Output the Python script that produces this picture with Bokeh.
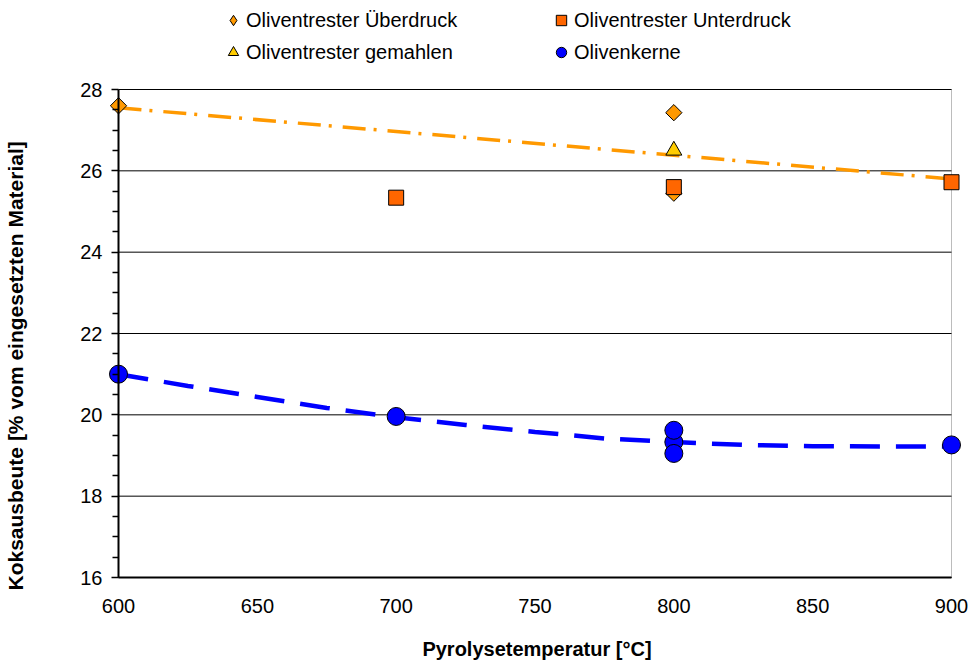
from bokeh.plotting import figure
from bokeh.models import (Range1d, FixedTicker, Legend, LegendItem, LinearAxis, BoxAnnotation,
                          Title)
from bokeh.embed import file_html
from bokeh.resources import INLINE

# ---- data ----
ueber_x = [600, 800, 800]
ueber_y = [27.6, 27.43, 25.45]
unter_x = [700, 800, 900]
unter_y = [25.34, 25.6, 25.72]
gem_x = [800]
gem_y = [26.5]
kerne_x = [600, 700, 800, 800, 800, 900]
kerne_y = [21.0, 19.96, 19.33, 19.62, 19.05, 19.26]

# trend lines
trend_o_x = [600, 900]
trend_o_y = [27.55, 25.8]
trend_b_x = [600, 625, 650, 675, 700, 725, 750, 775, 800, 825, 850, 875, 900]
trend_b_y = [21.0, 20.71, 20.44, 20.17, 19.94, 19.75, 19.58, 19.42, 19.33, 19.26, 19.23, 19.22, 19.22]

x_ticks = [600, 650, 700, 750, 800, 850, 900]
y_ticks = [16, 18, 20, 22, 24, 26, 28]
y_minor = [16.5, 17, 17.5, 18.5, 19, 19.5, 20.5, 21, 21.5, 22.5, 23, 23.5,
           24.5, 25, 25.5, 26.5, 27, 27.5]
X_MIN, X_MAX, Y_MIN, Y_MAX = 600, 900, 16, 28

FONT = "Liberation Sans"

# ---- layout (pixels) ----
W, H = 968, 666
AX_L, AX_R, AX_T, AX_B = 118, 951, 89, 577     # where the axis limits sit
FR_L, FR_R, FR_T, FR_B = 107, 966, 0, 579      # frame (larger: markers and legend fit inside)
xs = (X_MAX - X_MIN) / (AX_R - AX_L)
ys = (Y_MAX - Y_MIN) / (AX_B - AX_T)
x_range = Range1d(X_MIN - (AX_L - FR_L) * xs, X_MAX + (FR_R - AX_R) * xs)
y_range = Range1d(Y_MIN - (FR_B - AX_B) * ys, Y_MAX + (AX_T - FR_T) * ys)

p = figure(width=W, height=H, output_backend="svg", toolbar_location=None,
           x_range=x_range, y_range=y_range,
           min_border_left=FR_L, min_border_right=W - FR_R,
           min_border_top=FR_T, min_border_bottom=H - FR_B)
p.title.visible = False
p.background_fill_color = "white"
p.border_fill_color = "white"
p.outline_line_color = None
p.xgrid.visible = False
p.ygrid.visible = False


def labels_only(ax, ticks, text, standoff, label_standoff):
    ax.ticker = FixedTicker(ticks=ticks)
    ax.axis_line_color = None
    ax.major_tick_out = 0
    ax.major_tick_in = 0
    ax.minor_tick_out = 0
    ax.minor_tick_in = 0
    ax.major_label_standoff = standoff
    ax.major_label_text_font = FONT
    ax.major_label_text_font_size = "20px"
    ax.major_label_text_color = "black"
    ax.axis_label = text
    ax.axis_label_text_font = FONT
    ax.axis_label_text_font_size = "20px"
    ax.axis_label_text_font_style = "bold"
    ax.axis_label_text_color = "black"
    ax.axis_label_standoff = label_standoff


# default axes (at the frame edges): tick labels (and the x title)
labels_only(p.xaxis[0], x_ticks, "Pyrolysetemperatur [°C]", 19, 22)
labels_only(p.yaxis[0], y_ticks, " ", 5, 25)   # blank title only makes room for the y title

# y title, placed along the plot area like the original
t_kw = dict(text="Koksausbeute [% vom eingesetzten Material]", align="left",
            vertical_align="middle", offset=-11,
            text_font=FONT, text_font_size="21px", text_font_style="bold", text_color="black")
if "standoff" in Title.properties():
    t_kw["standoff"] = 0
p.add_layout(Title(**t_kw), "left")


def line_axis(ax):
    ax.axis_line_color = "black"
    ax.axis_line_width = 2
    ax.major_tick_in = 0
    ax.minor_tick_in = 0
    ax.major_tick_line_color = "black"
    ax.minor_tick_line_color = "black"
    ax.major_tick_line_width = 1.5
    ax.minor_tick_line_width = 1.5
    ax.major_label_text_alpha = 0
    ax.major_label_text_font_size = "1px"


# axis lines and tick marks at the data limits
xa = LinearAxis(fixed_location=Y_MIN, bounds=(X_MIN, X_MAX), ticker=FixedTicker(ticks=x_ticks))
line_axis(xa)
xa.major_tick_out = 0
xa.minor_tick_out = 0
p.add_layout(xa, "below")

ya = LinearAxis(fixed_location=X_MIN, bounds=(Y_MIN, Y_MAX),
                ticker=FixedTicker(ticks=y_ticks, minor_ticks=y_minor))
line_axis(ya)
ya.major_tick_out = 7
ya.minor_tick_out = 6
p.add_layout(ya, "left")

# plot-area border and horizontal gridlines
p.add_layout(BoxAnnotation(left=X_MIN, right=X_MAX, bottom=Y_MIN, top=Y_MAX,
                           fill_color=None, line_color="#222222", line_width=1,
                           level="underlay"))
p.segment(x0=X_MIN, y0=y_ticks, x1=X_MAX, y1=y_ticks, line_color="black", line_width=1)

# trend lines
p.line(trend_o_x, trend_o_y, line_color="#FF9900", line_width=3.5, line_dash="23 8 3 11")
p.line(trend_b_x, trend_b_y, line_color="#0000FF", line_width=4.5, line_dash="30 16")

# markers
p.scatter(ueber_x, ueber_y, marker="square", angle=0.785398, size=11.5,
          fill_color="#FF9900", line_color="black", line_width=1)
r_unter = p.scatter(unter_x, unter_y, marker="square", size=15,
                    fill_color="#FF6600", line_color="black", line_width=1)
r_gem = p.scatter(gem_x, gem_y, marker="triangle", size=16,
                  fill_color="#FFCC00", line_color="black", line_width=1)
r_kerne = p.scatter(kerne_x, kerne_y, marker="circle", size=18,
                    fill_color="#0000FF", line_color="black", line_width=1)
# legend symbol for the diamond series (same points, hidden on the plot)
r_ueber_leg = p.scatter(ueber_x, ueber_y, marker="diamond", size=14,
                        fill_color="#FF9900", line_color="black", line_width=1, visible=False)

common = dict(border_line_color=None, background_fill_alpha=0, padding=0, margin=0,
              spacing=6, glyph_width=26, glyph_height=26, label_standoff=0,
              label_text_font=FONT, label_text_font_size="20px", label_text_color="black",
              label_height=26, inactive_fill_alpha=0)
leg_bottom = FR_B - 65
leg1 = Legend(items=[LegendItem(label="Oliventrester Überdruck", renderers=[r_ueber_leg]),
                     LegendItem(label="Oliventrester gemahlen", renderers=[r_gem])],
              location=(220 - FR_L, leg_bottom), **common)
leg2 = Legend(items=[LegendItem(label="Oliventrester Unterdruck", renderers=[r_unter]),
                     LegendItem(label="Olivenkerne", renderers=[r_kerne])],
              location=(548 - FR_L, leg_bottom), **common)
p.add_layout(leg1)
p.add_layout(leg2)

open("out.html", "w").write(file_html(p, INLINE))
